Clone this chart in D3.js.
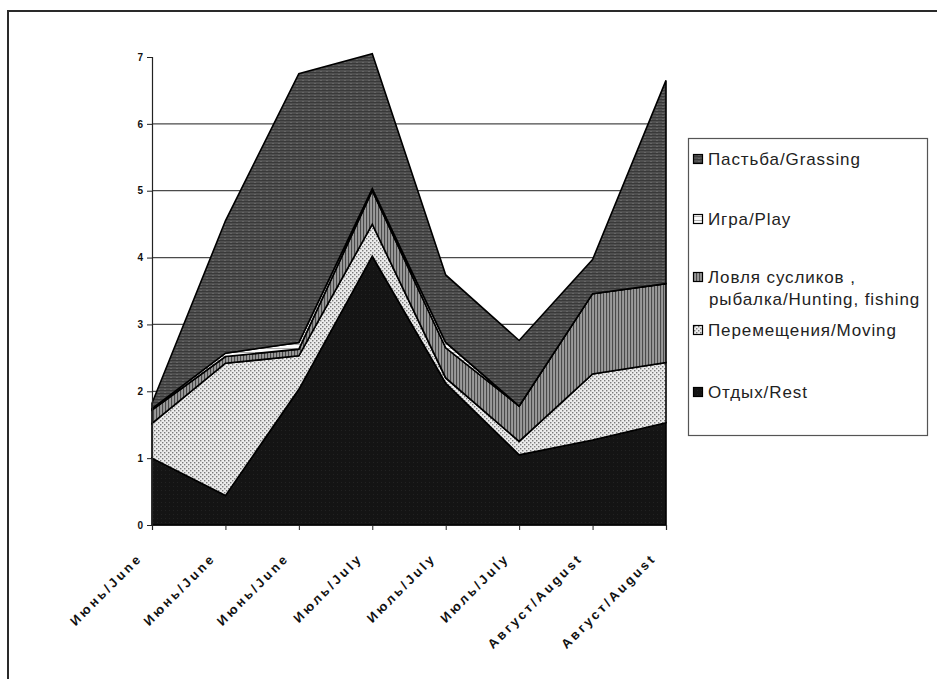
<!DOCTYPE html>
<html>
<head>
<meta charset="utf-8">
<script src="https://cdn.jsdelivr.net/npm/d3@7"></script>
<style>
  html, body { margin: 0; padding: 0; background: #fff; }
  svg { display: block; }
  text { font-family: "Liberation Sans", Arial, sans-serif; }
</style>
</head>
<body>
<svg id="chart" width="937" height="679"></svg>
<script>
// Daily activity budget by observation (hours), stacked bottom to top
const categories = ["Июнь/June", "Июнь/June", "Июнь/June", "Июль/July", "Июль/July", "Июль/July", "Август/August", "Август/August"];
const rest     = [1.00, 0.44, 2.03, 4.02, 2.12, 1.05, 1.27, 1.53];
const moving   = [0.52, 1.98, 0.50, 0.48, 0.08, 0.20, 0.99, 0.90];
const hunting  = [0.20, 0.10, 0.10, 0.50, 0.45, 0.53, 1.20, 1.18];
const play     = [0.02, 0.05, 0.10, 0.03, 0.08, 0.00, 0.00, 0.00];
const grassing = [0.08, 1.98, 4.02, 2.02, 1.01, 0.98, 0.51, 3.04];
const yTicks   = [0, 1, 2, 3, 4, 5, 6, 7];

const seriesKeys   = ["rest", "moving", "hunting", "play", "grassing"];
const seriesLabels = {
  grassing: ["Пастьба/Grassing"],
  play:     ["Игра/Play"],
  hunting:  ["Ловля сусликов ,", "рыбалка/Hunting, fishing"],
  moving:   ["Перемещения/Moving"],
  rest:     ["Отдых/Rest"]
};

const rows = categories.map((c, i) => ({
  idx: i, rest: rest[i], moving: moving[i], hunting: hunting[i], play: play[i], grassing: grassing[i]
}));

const svg = d3.select("#chart");
const defs = svg.append("defs");

// Fill patterns for each activity
function pat(id, w, h, bg, draw) {
  const p = defs.append("pattern").attr("id", id).attr("patternUnits", "userSpaceOnUse")
    .attr("width", w).attr("height", h);
  p.append("rect").attr("width", w).attr("height", h).attr("fill", bg);
  draw(p);
}
pat("p-rest", 4, 4, "#141414", p => {
  p.append("rect").attr("x", 1).attr("y", 2).attr("width", 1).attr("height", 1).attr("fill", "#222");
});
pat("p-moving", 4, 4, "#ececec", p => {
  p.append("rect").attr("x", 0).attr("y", 0).attr("width", 1.4).attr("height", 1.4).attr("fill", "#7a7a7a");
  p.append("rect").attr("x", 2).attr("y", 2).attr("width", 1.4).attr("height", 1.4).attr("fill", "#7a7a7a");
});
pat("p-hunting", 3, 3, "#9a9a9a", p => {
  p.append("rect").attr("x", 0).attr("y", 0).attr("width", 1.1).attr("height", 3).attr("fill", "#4a4a4a");
});
pat("p-play", 4, 4, "#fbfbfb", p => {
  p.append("rect").attr("x", 0).attr("y", 0).attr("width", 4).attr("height", 0.8).attr("fill", "#9a9a9a");
});
pat("p-grassing", 6, 3, "#505050", p => {
  p.append("rect").attr("x", 0).attr("y", 0).attr("width", 6).attr("height", 1).attr("fill", "#393939");
  p.append("rect").attr("x", 2).attr("y", 2).attr("width", 2).attr("height", 1).attr("fill", "#666");
});
const fills = {
  rest: "url(#p-rest)", moving: "url(#p-moving)", hunting: "url(#p-hunting)",
  play: "url(#p-play)", grassing: "url(#p-grassing)"
};

// Outer frame (left and top edges fall inside the page)
svg.append("path").attr("d", "M8,679 L8,11 L937,11")
  .attr("fill", "none").attr("stroke", "#2a2a2a").attr("stroke-width", 2);

const x = d3.scalePoint().domain(d3.range(categories.length)).range([152, 666]);
const y = d3.scaleLinear().domain([0, 7]).range([525, 57]);

// Horizontal gridlines
svg.append("g").selectAll("line").data(yTicks.filter(t => t > 0 && t < 7)).join("line")
  .attr("x1", x(0)).attr("x2", x(categories.length - 1))
  .attr("y1", d => y(d)).attr("y2", d => y(d))
  .attr("stroke", "#4a4a4a").attr("stroke-width", 1.2);

// Stacked areas
const stack = d3.stack().keys(seriesKeys);
const layers = stack(rows);
const area = d3.area()
  .x(d => x(d.data.idx))
  .y0(d => y(d[0]))
  .y1(d => y(d[1]));

svg.append("g").selectAll("path").data(layers).join("path")
  .attr("d", area)
  .attr("fill", d => fills[d.key])
  .attr("stroke", "#000")
  .attr("stroke-width", 1.6)
  .attr("stroke-linejoin", "miter");

// Axes
const yAxis = svg.append("g").attr("transform", `translate(${x(0)},0)`)
  .call(d3.axisLeft(y).tickValues(yTicks).tickSize(5).tickPadding(4).tickFormat(d3.format("d")));
yAxis.select(".domain").attr("stroke", "#222").attr("stroke-width", 1.2);
yAxis.selectAll(".tick line").attr("stroke", "#222");
yAxis.selectAll("text").attr("font-size", 10).attr("font-weight", "bold").attr("fill", "#111")
  .style("font-family", "'Liberation Sans', Arial, sans-serif");

const xAxis = svg.append("g").attr("transform", `translate(0,${y(0)})`)
  .call(d3.axisBottom(x).tickSize(5).tickFormat(() => ""));
xAxis.select(".domain").attr("stroke", "#222").attr("stroke-width", 1.2);
xAxis.selectAll(".tick line").attr("stroke", "#222");

// Rotated category labels
svg.append("g").selectAll("text").data(categories).join("text")
  .attr("transform", (d, i) => `translate(${x(i) - 9},559) rotate(-45)`)
  .attr("text-anchor", "end")
  .attr("font-size", 13)
  .attr("font-weight", "bold")
  .attr("letter-spacing", 2.8)
  .attr("fill", "#111")
  .text(d => d);

// Legend
const legend = svg.append("g");
legend.append("rect").attr("x", 688.5).attr("y", 138.5).attr("width", 239).attr("height", 297)
  .attr("fill", "#fff").attr("stroke", "#555").attr("stroke-width", 1.2);

const legendRows = [
  { key: "grassing", y: 159 },
  { key: "play", y: 219 },
  { key: "hunting", y: 277 },
  { key: "moving", y: 330 },
  { key: "rest", y: 392 }
];
const li = legend.selectAll("g.item").data(legendRows).join("g").attr("class", "item");
li.append("rect")
  .attr("x", 693.5).attr("y", d => d.y - 4.5).attr("width", 9).attr("height", 9)
  .attr("fill", d => fills[d.key]).attr("stroke", "#000").attr("stroke-width", 1.2);
li.each(function(d) {
  const g = d3.select(this);
  seriesLabels[d.key].forEach((line, j) => {
    g.append("text")
      .attr("x", j === 0 ? 708 : 709)
      .attr("y", d.y + j * 22)
      .attr("dy", "0.36em")
      .attr("font-size", 17)
      .attr("letter-spacing", 0.9)
      .attr("fill", "#222")
      .text(line);
  });
});
</script>
</body>
</html>
